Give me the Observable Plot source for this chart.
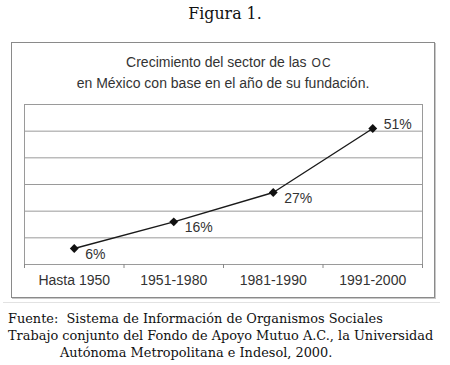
<!DOCTYPE html>
<html><head><meta charset="utf-8">
<script src="https://cdn.jsdelivr.net/npm/d3@7"></script>
<script src="https://cdn.jsdelivr.net/npm/@observablehq/plot@0.6"></script>
<style>
html,body{margin:0;padding:0;background:#fff;}
body{width:450px;height:365px;position:relative;overflow:hidden;}
#fig{position:absolute;top:5px;left:0;width:450px;text-align:center;font-family:"DejaVu Serif",serif;font-size:15.8px;line-height:18px;color:#111;}
#box{position:absolute;left:11px;top:42px;width:422px;height:254px;border:1px solid #8a8a8a;box-shadow:1px 1px 0 #c8c8c8;}
#title{position:absolute;left:11px;top:52px;width:424px;text-align:center;font-family:"Liberation Sans",Arial,sans-serif;font-size:14px;line-height:20px;color:#333;}
#title .l1{position:relative;left:6px;}
#title .sc{font-size:12px;letter-spacing:1.2px;margin-left:1px;}
#plot{position:absolute;left:0;top:90px;}
#sep{position:absolute;left:3px;top:302px;width:437px;height:1px;background:#e2e2e2;}
#foot{position:absolute;left:8px;top:310px;font-family:"DejaVu Serif",serif;font-size:12.9px;line-height:17px;color:#111;white-space:nowrap;}
</style></head>
<body>
<div id="fig">Figura 1.</div>
<div id="box"></div>
<div id="title"><span class="l1">Crecimiento del sector de las <span class="sc">OC</span></span><br>en México con base en el año de su fundación.</div>
<div id="plot"></div>
<div id="sep"></div>
<div id="foot">Fuente:&nbsp; Sistema de Información de Organismos Sociales<br>Trabajo conjunto del Fondo de Apoyo Mutuo A.C., la Universidad<br><span style="padding-left:52px">Autónoma Metropolitana e Indesol, 2000.</span></div>
<script>
const categories = ["Hasta 1950", "1951-1980", "1981-1990", "1991-2000"];
const values = [6, 16, 27, 51];
const labels = ["6%", "16%", "27%", "51%"];
const yTicks = [0, 10, 20, 30, 40, 50, 60];

const data = categories.map((c, i) => ({i, c, v: values[i], label: labels[i]}));
const idx = categories.map((_, i) => i);
const bounds = d3.range(-0.5, categories.length, 1);

const font = '"Liberation Sans", Arial, sans-serif';
const chart = Plot.plot({
  width: 450, height: 210,
  marginLeft: 24, marginRight: 28, marginTop: 14, marginBottom: 36,
  style: {fontFamily: font, fontSize: "14px", color: "#333", background: "transparent"},
  x: {type: "linear", domain: [-0.5, categories.length - 0.5], label: null},
  y: {domain: [0, 60], axis: null},
  marks: [
    Plot.ruleY(yTicks, {stroke: "#9a9a9a", strokeWidth: 1}),
    Plot.frame({stroke: "#9a9a9a"}),
    Plot.axisX(bounds, {tickSize: 4, tickFormat: () => "", stroke: "#888", label: null}),
    Plot.axisX(idx, {tickSize: 0, tickPadding: 11, tickFormat: i => categories[i], fill: "#333", fontSize: 14, label: null}),
    Plot.line(data, {x: "i", y: "v", stroke: "#1a1a1a", strokeWidth: 1.4}),
    Plot.dot(data, {x: "i", y: "v", symbol: "diamond2", r: 4, fill: "#111", stroke: "none"}),
    Plot.text(data.filter(d => d.v < 40), {x: "i", y: "v", text: "label", textAnchor: "start", dx: 11, dy: 6, fill: "#333", fontSize: 14}),
    Plot.text(data.filter(d => d.v >= 40), {x: "i", y: "v", text: "label", textAnchor: "start", dx: 11, dy: -4, fill: "#333", fontSize: 14})
  ]
});
document.getElementById("plot").appendChild(chart);
</script>
</body></html>
